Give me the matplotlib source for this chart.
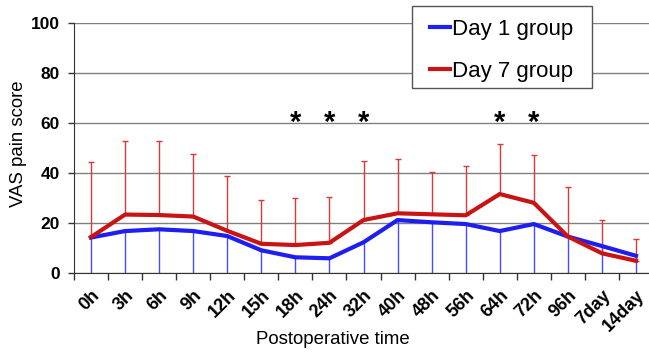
import numpy as np
import matplotlib
matplotlib.use("Agg")
import matplotlib.pyplot as plt
from matplotlib.patches import Rectangle

plt.rcParams['font.family'] = ['Liberation Sans', 'DejaVu Sans']

tiempos = ['0h', '3h', '6h', '9h', '12h', '15h', '18h', '24h', '32h', '40h',
           '48h', '56h', '64h', '72h', '96h', '7day', '14day']
dia1 = [14.3, 16.9, 17.6, 16.9, 14.9, 9.2, 6.4, 6.0, 12.4, 21.3,
        20.4, 19.7, 16.9, 19.7, 14.7, 10.9, 7.0]
dia7 = [14.5, 23.5, 23.3, 22.7, 17.0, 11.8, 11.3, 12.2, 21.3, 24.0,
        23.6, 23.2, 31.7, 28.2, 14.7, 8.0, 5.0]
dia7_sup = [44.4, 53.0, 52.9, 47.7, 38.9, 29.2, 30.3, 30.6, 45.0, 45.7,
            40.4, 42.9, 51.7, 47.3, 34.7, 21.3, 13.7]
signif = ['18h', '24h', '32h', '64h', '72h']

x = np.arange(len(tiempos))
azul = '#1e1ef0'
rojo = '#c81414'

fig = plt.figure(figsize=(6.49, 3.57), dpi=100)
ax = fig.add_axes([74/649, 1-273.3/357, (653-74)/649, 250/357])

# barras de error (Day 1 hacia abajo, Day 7 hacia arriba)
ax.errorbar(x, dia1, yerr=[dia1, np.zeros(len(x))], fmt='none', ecolor='#4a4aff',
            elinewidth=1, capsize=0, zorder=2)
ax.errorbar(x, dia7, yerr=[np.zeros(len(x)), np.array(dia7_sup) - np.array(dia7)],
            fmt='none', ecolor='#d83a3a', elinewidth=1, capsize=2, capthick=1, zorder=2)

ax.plot(x, dia1, color=azul, lw=3, label='Day 1 group', zorder=3, solid_joinstyle='round')
ax.plot(x, dia7, color=rojo, lw=3, label='Day 7 group', zorder=4, solid_joinstyle='round')

for t in signif:
    ax.text(tiempos.index(t), 60, '*', ha='center', va='center', fontsize=21,
            fontweight='bold', color='black')

ax.set_xlim(-0.5, len(tiempos) - 0.5)
ax.set_ylim(0, 100)
ax.set_yticks([0, 20, 40, 60, 80, 100])
ax.yaxis.grid(True, color='#808080', lw=1)
ax.set_axisbelow(True)

ax.set_xticks(x)
ax.set_xticklabels(tiempos, rotation=45, ha='right', rotation_mode='anchor',
                   fontweight='bold', fontsize=13)
ax.set_xticks(np.arange(-0.5, len(tiempos)), minor=True)
ax.tick_params(axis='x', which='major', length=0, pad=10)
ax.tick_params(axis='x', which='minor', length=5, width=1, color='#333333')
ax.tick_params(axis='y', length=4, width=1, color='#333333', labelsize=12.5, pad=6)
for lab in ax.get_yticklabels():
    lab.set_fontweight('bold')

for s in ['top', 'right']:
    ax.spines[s].set_visible(False)
ax.spines['left'].set_color('#333333')
ax.spines['bottom'].set_color('#333333')

fig.text(333/649, 1 - 340/357, 'Postoperative time', fontsize=13.4,
         ha='center', va='center')
ax.set_ylabel('VAS pain score', fontsize=13.4)
ax.yaxis.set_label_coords(-(74 - 19)/579, 0.52)
ax.yaxis.label.set_va('center')

# marco de la leyenda dibujado aparte
marco = Rectangle((412/649, 1 - 88/357), 180/649, 82/357, transform=fig.transFigure,
                  facecolor='white', edgecolor='#555555', lw=1, zorder=5,
                  clip_on=False)
ax.add_patch(marco)

leg = ax.legend(loc='upper left', bbox_to_anchor=(419/649, 1 - 7.5/357),
                bbox_transform=fig.transFigure, borderaxespad=0, fontsize=16,
                handlelength=0.9, handletextpad=0.1, borderpad=0.5,
                labelspacing=0.95, frameon=False)
leg.set_zorder(6)

fig.savefig('out.png', dpi=100)
